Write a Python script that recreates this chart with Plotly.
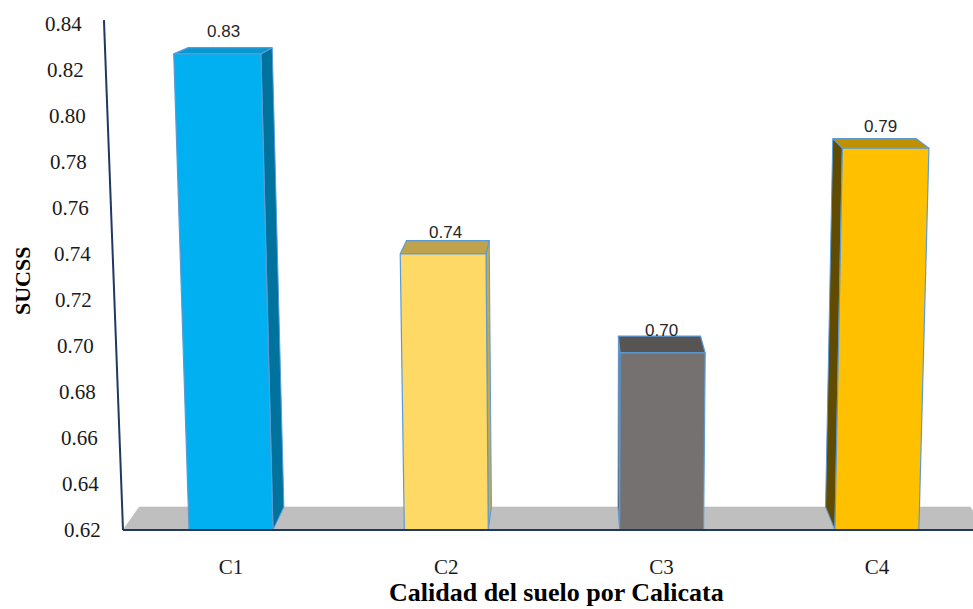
import plotly.graph_objects as go

# ---- data -------------------------------------------------------------
categories = ["C1", "C2", "C3", "C4"]
sucss = [0.827, 0.740, 0.697, 0.786]
y_ticks = [0.62, 0.64, 0.66, 0.68, 0.70, 0.72, 0.74, 0.76, 0.78, 0.80, 0.82, 0.84]

front_colors = ["#00B0F0", "#FFD966", "#767171", "#FFC000"]
top_colors = ["#0798D2", "#BFA34C", "#585454", "#BF9000"]
side_colors = ["#00729E", "#C9A847", "#4B4848", "#604B00"]

SERIF = "Liberation Serif, Times New Roman, serif"

# ---- figure geometry (pixels) ----------------------------------------
W, H = 973, 609
ML, MR, MT, MB = 60, 0, 10, 76
X_ORIGIN_PX = 231.0      # pixel x of category index 0
PX_PER_X = 215.3         # pixels per category step
Y_BASE_PX = 530.0        # pixel y of the floor (y = 0.62)
PX_PER_Y = 2300.0        # pixels per unit of SUCSS
Y_MIN = y_ticks[0]

x_lo = (ML - X_ORIGIN_PX) / PX_PER_X
x_hi = (W - MR - X_ORIGIN_PX) / PX_PER_X
y_lo = Y_MIN - (H - MB - Y_BASE_PX) / PX_PER_Y
y_hi = Y_MIN + (Y_BASE_PX - MT) / PX_PER_Y


def to_px(xd, yd):
    return X_ORIGIN_PX + xd * PX_PER_X, Y_BASE_PX - (yd - Y_MIN) * PX_PER_Y


def to_data(px, py):
    return (px - X_ORIGIN_PX) / PX_PER_X, Y_MIN + (Y_BASE_PX - py) / PX_PER_Y


def paper_xy(px, py):
    return (px - ML) / (W - ML - MR), (H - MB - py) / (H - MT - MB)


# simple perspective: front plane leans outward with height, depth recedes
LEAN_VX, LEAN_K = 590.0, 8e-5
DEPTH_VX, DEPTH_K = 575.0, 0.036


def project(xd, yd, depth=0.0):
    px, py = to_px(xd, yd)
    px += (px - LEAN_VX) * LEAN_K * (Y_BASE_PX - py)
    px += (DEPTH_VX - px) * DEPTH_K * depth
    py -= (4.3 + 0.0355 * py) * depth
    return to_data(px, py)


def poly(points, fill, line_color=None, width=1.2):
    xs = [p[0] for p in points] + [points[0][0]]
    ys = [p[1] for p in points] + [points[0][1]]
    return go.Scatter(
        x=xs, y=ys, mode="lines", fill="toself", fillcolor=fill,
        line=dict(color=line_color or fill, width=width if line_color else 0.5),
        hoverinfo="skip", showlegend=False,
    )


fig = go.Figure()

# floor
fx_l, _ = to_data(123, 0)
fx_r, _ = to_data(985, 0)
floor = [project(fx_l, Y_MIN, 0), project(fx_r, Y_MIN, 0),
         project(fx_r, Y_MIN, 1), project(fx_l, Y_MIN, 1)]
fig.add_trace(poly(floor, "#BFBFBF"))

# bars
HALF_W = 0.195
OUTLINE = "#5B9BD5"
label_pos = []
for i, (cat, v) in enumerate(zip(categories, sucss)):
    c = float(i)
    FLb, FRb = project(c - HALF_W, Y_MIN, 0), project(c + HALF_W, Y_MIN, 0)
    FLt, FRt = project(c - HALF_W, v, 0), project(c + HALF_W, v, 0)
    BLb, BRb = project(c - HALF_W, Y_MIN, 1), project(c + HALF_W, Y_MIN, 1)
    BLt, BRt = project(c - HALF_W, v, 1), project(c + HALF_W, v, 1)
    cx_px, _ = to_px(c, v)
    if cx_px < DEPTH_VX:
        side = [FRb, FRt, BRt, BRb]
    else:
        side = [FLb, FLt, BLt, BLb]
    fig.add_trace(poly(side, side_colors[i], OUTLINE, 1.0))
    fig.add_trace(poly([FLt, FRt, BRt, BLt], top_colors[i], OUTLINE, 1.2))
    fig.add_trace(poly([FLb, FRb, FRt, FLt], front_colors[i], OUTLINE, 1.2))
    label_pos.append(((FLt[0] + FRt[0] + BLt[0] + BRt[0]) / 4, v))

# axis lines (front-left vertical, bottom horizontal)
ax_bottom = project(fx_l, Y_MIN, 0)
ax_top = project(fx_l, y_ticks[-1] + 0.0017, 0)
fig.add_trace(go.Scatter(x=[ax_bottom[0], ax_top[0]], y=[ax_bottom[1], ax_top[1]],
                         mode="lines", line=dict(color="#203864", width=2),
                         hoverinfo="skip", showlegend=False))
fig.add_trace(go.Scatter(x=[fx_l, x_hi], y=[Y_MIN, Y_MIN],
                         mode="lines", line=dict(color="#203864", width=2.2),
                         hoverinfo="skip", showlegend=False))

annotations = []
# value labels
for (lx, v) in label_pos:
    annotations.append(dict(
        x=lx, y=v, xref="x", yref="y", text=f"{v:.2f}", showarrow=False,
        yshift=22, font=dict(family="Liberation Sans, Arial, sans-serif", size=17,
                             color="#262626"),
    ))

# y tick labels following the leaning axis
for t in y_ticks:
    ax_x, _ = project(fx_l, t, 0)
    annotations.append(dict(
        x=ax_x, y=t, xref="x", yref="y", text=f"{t:.2f}", showarrow=False,
        xanchor="right", xshift=-20,
        font=dict(family=SERIF, size=21, color="#1a1a1a"),
    ))

# axis titles (pixel positions converted to paper coordinates)
tx, ty = paper_xy(22, 281)
annotations.append(dict(
    x=tx, y=ty, xref="paper", yref="paper", xanchor="center", yanchor="middle",
    text="<b>SUCSS</b>", showarrow=False, textangle=-90,
    font=dict(family=SERIF, size=22, color="#000000"),
))
tx, ty = paper_xy(556, 609)
annotations.append(dict(
    x=tx, y=ty, xref="paper", yref="paper", xanchor="center", yanchor="bottom",
    text="<b>Calidad del suelo por Calicata</b>", showarrow=False,
    font=dict(family=SERIF, size=26, color="#000000"),
))

fig.update_layout(
    width=W, height=H,
    margin=dict(l=ML, r=MR, t=MT, b=MB, pad=0),
    paper_bgcolor="white", plot_bgcolor="white",
    showlegend=False,
    annotations=annotations,
    xaxis=dict(
        range=[x_lo, x_hi], tickmode="array", tickvals=list(range(len(categories))),
        ticktext=categories, showgrid=False, zeroline=False, showline=False,
        ticks="", ticklabelstandoff=19,
        tickfont=dict(family=SERIF, size=21, color="#1a1a1a"),
    ),
    yaxis=dict(range=[y_lo, y_hi], showgrid=False, zeroline=False, showline=False,
               showticklabels=False, ticks=""),
)

fig.write_html("out.html")
